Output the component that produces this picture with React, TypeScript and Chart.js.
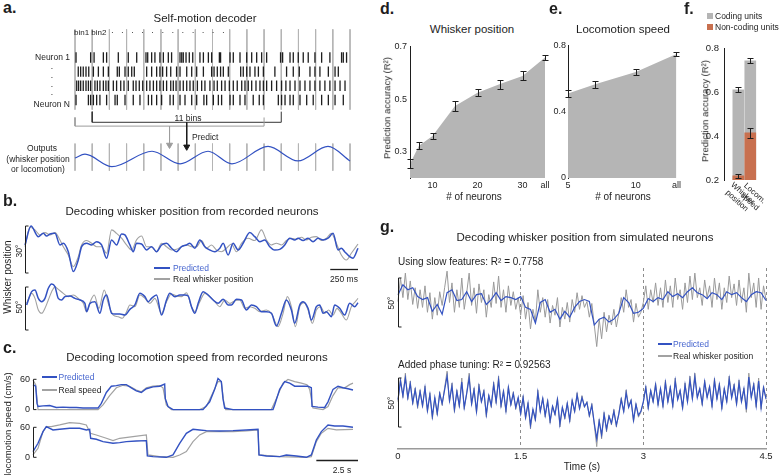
import React, { useEffect, useRef } from 'react';
import { Chart, registerables } from 'chart.js';

Chart.register(...registerables);

const FONT = '"Liberation Sans", Arial, Helvetica, sans-serif';
Chart.defaults.font.family = FONT;
Chart.defaults.color = '#1e1e1e';

const INK = '#1e1e1e';
const BLUE = '#3352c2';
const BLUE_TEXT = '#4766cf';
const GRAY = '#a2a2a2';
const FILL_GRAY = '#b5b5b5';
const ORANGE = '#c8704f';
const GRID_GRAY = '#b4b4b4';

// ---------------- Panel a : raster diagram ----------------
const BIN_EDGES = [0, 1, 2, 3, 4, 5, 6, 7, 8, 9, 10, 11, 12, 13, 14, 15, 16];
const NEURON_ROWS = [1, 2, 3, 4];
const SPIKES_N1 = [0.06, 0.91, 1.11, 1.65, 1.84, 2.52, 3.1, 3.59, 4.13, 4.23, 4.46, 4.65, 4.94, 5.14, 5.43, 5.62, 6.11, 6.21, 6.3, 6.46, 6.65, 6.85, 7.27, 7.47, 7.76, 7.95, 8.4, 8.47, 9.02, 9.21, 9.6, 9.99, 10.28, 10.57, 10.86, 11.15, 11.96, 12.08, 12.51, 12.7, 12.99, 13.28, 13.57, 13.96, 14.35, 14.83, 15.51, 15.61, 15.8];
const SPIKES_N2 = [0.19, 0.33, 0.48, 0.64, 0.8, 1.07, 1.36, 1.65, 1.94, 2.46, 2.58, 2.91, 3.1, 3.3, 3.45, 4.17, 4.46, 4.75, 4.94, 5.1, 5.33, 5.57, 5.91, 6.11, 6.5, 6.79, 7.08, 7.47, 7.95, 8.09, 8.28, 8.47, 8.63, 8.92, 9.64, 9.79, 9.99, 10.18, 10.47, 10.67, 10.96, 11.63, 12.31, 12.7, 13.05, 13.67, 13.96, 14.25, 14.74, 15.13, 15.32];
const SPIKES_N3 = [0.1, 0.21, 0.33, 0.48, 0.64, 0.78, 0.91, 1.16, 1.3, 1.45, 1.65, 1.8, 1.94, 2.23, 2.42, 2.66, 2.85, 3.1, 3.39, 3.55, 3.74, 3.94, 4.17, 4.36, 4.56, 4.75, 4.94, 5.14, 5.33, 5.57, 5.72, 5.88, 6.11, 6.3, 6.5, 6.69, 6.88, 7.12, 7.37, 7.56, 7.85, 8.09, 8.28, 8.53, 8.73, 8.98, 9.21, 9.44, 9.7, 9.89, 10.08, 10.28, 10.53, 10.76, 10.96, 11.15, 11.44, 11.73, 12.02, 12.27, 12.51, 12.8, 13.09, 13.38, 13.67, 13.96, 14.25, 14.54, 14.83, 15.13, 15.42, 15.71];
const SPIKES_NN = [0.06, 0.78, 0.91, 1.07, 1.26, 1.45, 1.84, 2.33, 2.46, 2.91, 3.39, 3.78, 4.27, 4.46, 4.75, 5.04, 5.53, 5.72, 6.11, 6.4, 6.79, 7.08, 7.5, 7.66, 8.05, 8.34, 8.53, 9.02, 9.21, 9.6, 9.89, 10.37, 10.72, 10.96, 11.83, 12.02, 12.22, 12.51, 12.7, 13.09, 13.48, 13.86, 14.35, 14.74, 15.13, 15.61];
const RASTER = [SPIKES_N1, SPIKES_N2, SPIKES_N3, SPIKES_NN];
const WINDOW_PREV = [0, 11];
const WINDOW_NEXT = [1, 12];
const OUTPUT_WAVE = [[0, 8.09], [0.58, 7.82], [2.15, 8.7], [4.48, 7.61], [6.11, 8.5], [7.74, 7.61], [9.13, 8.5], [11.23, 7.27], [12.97, 8.29], [14.72, 7.27], [16, 8.29]];
// layout of the diagram (row units)
const A_RASTER_SPAN = [-0.98, 4.68];
const A_OUTPUT_SPAN = [7.07, 8.98];
const A_NEXT_BRACKET = [4.82, 5.57];
const A_PREV_BRACKET = [5.23, 5.84];
const A_ARROW_HEAD = [7.17, 7.3];

// ---------------- Panel b : whisker position (ms, degrees) ----------------
const B1_PRED = [[0, 17.9], [54, 30.0], [120, 23.2], [165, 25.3], [195, 23.6], [225, 24.9], [270, 25.3], [315, 17.9], [345, 19.0], [390, 13.6], [435, 0.9], [480, 8.3], [510, 16.8], [555, 19.0], [600, 17.9], [645, 20.0], [690, 17.9], [735, 9.4], [780, 21.1], [825, 17.9], [870, 24.9], [900, 24.3], [945, 17.9], [975, 13.6], [1005, 19.0], [1050, 18.5], [1095, 14.7], [1140, 16.8], [1185, 13.6], [1230, 17.9], [1275, 19.0], [1320, 15.8], [1365, 13.6], [1410, 16.8], [1455, 17.9], [1485, 19.0], [1530, 15.8], [1575, 21.1], [1620, 16.8], [1665, 14.7], [1710, 13.6], [1755, 15.8], [1785, 19.0], [1830, 11.5], [1875, 19.0], [1920, 14.7], [1965, 19.0], [2025, 25.8], [2070, 23.2], [2115, 20.0], [2160, 21.1], [2205, 16.8], [2250, 14.7], [2295, 15.1], [2340, 17.9], [2385, 22.2], [2430, 21.1], [2460, 22.2], [2505, 20.7], [2550, 22.2], [2595, 20.0], [2640, 22.2], [2685, 21.1], [2730, 22.2], [2775, 25.3], [2820, 14.7], [2850, 15.8], [2880, 13.6], [2925, 10.4], [2955, 9.4], [3000, 15.8]];
const B1_REAL = [[0, 16.8], [45, 29.2], [90, 27.5], [135, 24.3], [180, 25.8], [225, 24.3], [270, 25.8], [315, 21.1], [345, 16.8], [390, 11.5], [435, 4.0], [480, 10.4], [510, 17.9], [555, 20.7], [600, 19.0], [645, 16.8], [690, 16.8], [735, 12.6], [780, 27.5], [825, 25.3], [870, 22.2], [915, 17.9], [960, 14.7], [1005, 21.1], [1050, 23.6], [1095, 16.8], [1140, 16.8], [1185, 13.6], [1230, 19.0], [1275, 16.8], [1320, 14.7], [1365, 15.1], [1410, 16.8], [1455, 17.9], [1500, 16.8], [1545, 16.8], [1590, 20.7], [1635, 15.8], [1680, 17.9], [1725, 14.7], [1770, 13.6], [1815, 15.8], [1860, 18.5], [1905, 13.6], [1950, 19.0], [2010, 22.2], [2070, 20.7], [2130, 27.5], [2175, 21.1], [2220, 17.9], [2265, 19.0], [2310, 17.9], [2355, 20.7], [2400, 22.2], [2445, 21.5], [2490, 22.8], [2535, 21.1], [2580, 22.8], [2625, 23.2], [2670, 20.7], [2715, 22.2], [2760, 25.3], [2805, 19.0], [2850, 11.5], [2895, 8.3], [2940, 12.6], [3000, 18.5]];
const B2_PRED = [[15, 29.1], [60, 44.6], [90, 46.5], [120, 36.8], [150, 32.9], [180, 36.8], [210, 48.5], [240, 53.5], [270, 50.4], [300, 36.8], [330, 34.9], [360, 38.8], [405, 39.5], [450, 36.8], [495, 34.9], [540, 31.0], [555, 21.3], [585, 31.0], [630, 32.9], [675, 19.4], [705, 34.9], [735, 40.7], [780, 19.4], [810, 18.6], [855, 18.6], [900, 17.4], [945, 24.0], [990, 29.1], [1035, 42.6], [1080, 38.8], [1110, 32.9], [1140, 36.8], [1185, 40.7], [1230, 17.4], [1275, 34.9], [1305, 42.6], [1350, 38.8], [1395, 40.7], [1440, 40.7], [1470, 39.5], [1500, 27.1], [1530, 19.4], [1560, 31.0], [1605, 44.6], [1650, 40.7], [1695, 34.9], [1740, 31.0], [1785, 35.7], [1830, 29.1], [1860, 29.1], [1905, 35.7], [1950, 34.9], [1995, 23.3], [2040, 29.1], [2085, 27.1], [2130, 21.3], [2175, 21.3], [2220, 19.4], [2265, 4.7], [2310, 19.4], [2355, 34.9], [2400, 23.3], [2430, 7.8], [2475, 29.1], [2505, 32.9], [2550, 25.2], [2580, 11.6], [2625, 27.1], [2655, 29.1], [2685, 19.4], [2715, 21.3], [2760, 15.5], [2790, 29.1], [2835, 25.2], [2880, 17.4], [2925, 31.0], [2970, 27.1], [3000, 31.8]];
const B2_REAL = [[15, 31.0], [60, 42.6], [90, 36.8], [120, 23.3], [150, 19.4], [180, 25.2], [210, 34.9], [240, 44.6], [270, 50.4], [300, 47.3], [345, 42.6], [390, 38.8], [435, 40.7], [480, 36.8], [525, 31.0], [555, 21.3], [594, 34.9], [624, 40.7], [666, 25.2], [714, 46.5], [750, 31.0], [795, 17.4], [840, 15.5], [876, 13.6], [915, 21.3], [945, 29.1], [990, 27.1], [1035, 40.7], [1080, 36.8], [1125, 31.0], [1170, 36.8], [1230, 19.4], [1275, 32.9], [1320, 41.9], [1365, 39.5], [1410, 38.8], [1455, 43.4], [1500, 27.1], [1530, 21.3], [1575, 32.9], [1620, 42.6], [1665, 38.8], [1710, 32.9], [1755, 27.1], [1800, 34.9], [1845, 31.0], [1890, 34.1], [1935, 34.9], [1980, 25.2], [2025, 27.1], [2070, 25.2], [2115, 21.3], [2175, 23.3], [2220, 19.4], [2280, 3.9], [2325, 19.4], [2364, 38.8], [2400, 27.1], [2436, 3.9], [2475, 27.1], [2514, 31.8], [2550, 23.3], [2589, 7.8], [2625, 23.3], [2664, 27.1], [2700, 19.4], [2736, 23.3], [2775, 17.4], [2811, 25.2], [2850, 19.4], [2895, 11.6], [2940, 27.1], [2976, 32.9], [3000, 36.8]];
const B_TIME_MAX = 3000;
const B1_BAR_DEG = 30;
const B2_BAR_DEG = 50;
const B_SCALE_MS = 250;

// ---------------- Panel c : locomotion speed (s, cm/s) ----------------
const C1_PRED = [[0, 49.4], [0.16, 46.3], [0.24, 12.3], [0.3, 6.2], [0.6, 7.4], [1.0, 8.0], [1.4, 4.3], [1.8, 4.9], [2.2, 4.3], [2.6, 4.3], [3.0, 3.1], [3.4, 3.1], [3.9, 3.1], [4.1, 12.3], [4.4, 33.9], [4.7, 46.3], [5.0, 47.5], [5.3, 49.4], [5.6, 49.4], [5.9, 43.2], [6.2, 37.0], [6.5, 33.9], [6.8, 41.3], [7.2, 45.0], [7.6, 46.3], [7.9, 50.6], [7.94, 21.6], [8.1, 6.2], [8.4, 0], [10.2, 0], [10.6, 15.4], [10.9, 40.1], [11.1, 61.7], [11.3, 55.5], [11.4, 21.6], [11.5, 3.1], [12.0, 0], [14.4, 0], [14.5, 9.3], [14.8, 40.1], [15.1, 55.5], [15.4, 52.4], [15.7, 46.3], [16.1, 46.3], [16.5, 46.3], [16.7, 43.2], [16.74, 6.2], [17.1, 4.9], [17.5, 4.3], [17.7, 15.4], [18.0, 40.1], [18.3, 46.3], [18.6, 43.2], [18.9, 41.3], [19.2, 38.9]];
const C1_REAL = [[0, 58.6], [0.16, 49.4], [0.24, 21.6], [0.3, 0], [3.9, 0], [4.2, 9.3], [4.6, 27.8], [5.0, 43.2], [5.4, 48.1], [5.8, 46.3], [6.2, 38.9], [6.5, 35.2], [6.8, 43.2], [7.2, 46.3], [7.6, 47.5], [7.8, 43.2], [8.0, 9.3], [8.3, 0], [10.0, 0], [10.4, 6.2], [10.8, 33.9], [11.1, 55.5], [11.3, 55.5], [11.44, 15.4], [11.56, 0], [14.3, 0], [14.6, 21.6], [15.0, 52.4], [15.3, 59.8], [15.7, 55.5], [16.1, 52.4], [16.44, 49.4], [16.6, 40.1], [16.8, 3.1], [17.4, 0], [17.7, 6.2], [18.0, 27.8], [18.3, 43.2], [18.7, 43.2], [19.0, 49.4], [19.2, 52.4]];
const C2_PRED = [[0, 11.3], [0.3, 28.0], [0.6, 51.4], [0.8, 61.4], [1.2, 54.7], [1.6, 56.0], [2.2, 58.0], [2.8, 58.0], [3.2, 54.7], [3.4, 56.0], [3.46, 38.0], [3.8, 36.0], [4.2, 31.3], [4.8, 28.0], [5.2, 29.3], [5.6, 31.3], [6.2, 32.7], [6.8, 33.4], [6.86, 2.7], [7.2, 1.3], [8.0, 0], [8.4, 4.7], [8.8, 28.0], [9.2, 48.0], [9.6, 56.0], [10.0, 54.7], [10.4, 53.4], [11.2, 52.7], [12.0, 53.4], [12.8, 54.7], [13.5, 56.0], [13.56, 4.7], [14.0, 2.7], [14.8, 1.3], [15.2, 4.7], [15.8, 2.7], [16.4, 0], [16.7, 4.7], [17.0, 34.7], [17.3, 51.4], [17.7, 64.7], [18.1, 62.7], [18.6, 62.7], [19.2, 60.0]];
const C2_REAL = [[0, 4.7], [0.3, 18.0], [0.6, 51.4], [0.8, 61.4], [1.1, 61.4], [1.6, 64.7], [2.2, 69.4], [2.8, 68.0], [3.2, 64.7], [3.44, 48.0], [3.8, 44.7], [4.4, 38.0], [4.8, 33.4], [5.2, 38.0], [6.0, 41.4], [6.8, 44.7], [6.9, 4.7], [7.6, 1.3], [8.4, 0], [8.8, 4.7], [9.2, 11.3], [9.6, 31.3], [10.0, 44.7], [10.4, 51.4], [11.2, 51.4], [12.0, 51.4], [12.8, 52.7], [13.5, 54.7], [13.56, 4.7], [14.8, 1.3], [16.4, 0], [16.7, 1.3], [17.0, 31.3], [17.3, 48.0], [17.7, 58.0], [18.2, 54.7], [19.2, 56.0]];
const C_TIME_MAX = 19.5;
const C_SPEED_TICKS = [0, 60];
const C_SCALE_S = 2.5;

// ---------------- Panel d / e / f ----------------
const D_NEURONS = [5, 7, 10, 15, 20, 25, 30, 35];
const D_R2 = [0.254, 0.323, 0.36, 0.474, 0.524, 0.557, 0.588, 0.658];
const D_ERR = [0.017, 0.0125, 0.0125, 0.019, 0.0125, 0.017, 0.0175, 0.011];
const D_X_TICKS = [10, 20, 30, 35];
const D_Y_TICKS = [0.3, 0.5, 0.7];
const D_ALL = 35;

const E_NEURONS = [5, 7, 10, 13];
const E_R2 = [0.51, 0.566, 0.64, 0.748];
const E_ERR = [0.02, 0.02, 0.02, 0.012];
const E_X_TICKS = [5, 10, 13];
const E_Y_TICKS = [0, 0.4, 0.8];
const E_ALL = 13;

const F_GROUPS = ['Whisker position', 'Locom. speed'];
const F_CODING = [0.612, 0.745];
const F_CODING_ERR = [0.012, 0.012];
const F_NONCODING = [0.219, 0.415];
const F_NONCODING_ERR = [0.008, 0.022];
const F_Y_TICKS = [0.2, 0.4, 0.6, 0.8];

// ---------------- Panel g : simulated neurons ----------------
const G_DT_FAST = 0.03;
const G_DT_SLOW = 0.06;
const G_REAL = [
  26, 50, 30, 55, 28, 47, 23, 40, 19, 38,
  20, 42, 15, 35, 8, 30, 12, 36, 22, 40,
  57, 25, 45, 15, 38, 20, 50, 18, 35, 55,
  22, 40, 14, 44, 25, 38, 10, 33, 20, 46,
  24, 52, 20, 38, 15, 42, 22, 36, 18, 30,
  12, 32, 8, 25, -2, 18, 6, 38, 15, 30,
  10, 28, 4, 22, 12, 30, 0, 20, 8, 25,
  5, 28, 15, 35, 18, 32, 20, 26, 10, 24,
  2, -20, 8, -12, 15, -5, 12, 2, 18, 0,
  14, 30, 15, 38, 20, 28, 5, 24, 10, 15,
  25, 42, 18, 38, 25, 45, 22, 40, 20, 48,
  25, 42, 20, 50, 28, 38, 18, 45, 25, 52,
  28, 55, 30, 40, 22, 48, 30, 42, 20, 50,
  28, 45, 18, 40, 25, 52, 30, 44, 22, 48,
  25, 40, 15, 55, 30, 45, 20, 50, 18, 42,
  28,
];
const G1_PRED = [
  33, 43, 38, 40, 31, 28, 30, 16, 23, 13,
  35, 38, 27, 28, 36, 26, 33, 34, 23, 28,
  35, 27, 31, 30, 28, 31, 20, 18, 4, 25,
  28, 15, 18, 8, 16, 10, 20, 26, 28, 26,
  2, 8, 10, 5, 8, 14, 30, 25, 14, 15,
  19, 29, 26, 30, 28, 36, 31, 34, 30, 36,
  40, 35, 33, 29, 35, 33, 28, 36, 33, 35,
  30, 26, 33, 36, 35, 27,
];
const G2_PRED = [
  28, 47, 32, 50, 30, 44, 25, 38, 22, 36,
  22, 40, 17, 33, 11, 30, 14, 34, 24, 38,
  52, 27, 42, 18, 36, 22, 46, 20, 34, 50,
  24, 38, 16, 41, 26, 36, 13, 32, 22, 43,
  26, 48, 22, 36, 17, 40, 23, 34, 20, 30,
  14, 30, 10, 24, 2, 18, 8, 35, 16, 29,
  12, 26, 6, 21, 13, 28, 3, 20, 10, 24,
  7, 27, 16, 33, 19, 30, 21, 25, 12, 22,
  4, -12, 6, -8, 13, -2, 11, 4, 16, 2,
  13, 28, 16, 35, 20, 27, 7, 23, 12, 16,
  26, 40, 20, 37, 26, 43, 23, 39, 22, 45,
  26, 40, 22, 47, 28, 37, 20, 43, 26, 48,
  29, 51, 30, 39, 24, 46, 30, 41, 22, 47,
  29, 43, 20, 39, 26, 49, 30, 42, 24, 45,
  26, 39, 18, 51, 30, 43, 22, 47, 20, 40,
  29,
];
const G_X_TICKS = [0, 1.5, 3, 4.5];
const G_BAR_DEG = 50;

// ---------------- plugins ----------------
const scaleBarPlugin = {
  id: 'scalebars',
  afterDatasetsDraw(chart: any, _a: any, opts: any) {
    const ctx = chart.ctx;
    ctx.save();
    ctx.strokeStyle = INK;
    for (const b of opts.vertical || []) {
      const ys = chart.scales[b.axis || 'y'];
      const x = Math.round(chart.scales.x.getPixelForValue(b.at)) + 0.5;
      const y1 = ys.getPixelForValue(b.lo);
      const y2 = ys.getPixelForValue(b.hi);
      ctx.lineWidth = 1;
      ctx.beginPath();
      ctx.moveTo(x + 3, y1); ctx.lineTo(x, y1); ctx.lineTo(x, y2); ctx.lineTo(x + 3, y2);
      ctx.stroke();
    }
    for (const b of opts.horizontal || []) {
      const ys = chart.scales[b.axis || 'y'];
      const y = Math.round(ys.getPixelForValue(b.at)) + 0.5;
      ctx.lineWidth = 1.3;
      ctx.beginPath();
      ctx.moveTo(chart.scales.x.getPixelForValue(b.lo), y);
      ctx.lineTo(chart.scales.x.getPixelForValue(b.hi), y);
      ctx.stroke();
    }
    ctx.restore();
  },
};

const errorBarPlugin = {
  id: 'errorbars',
  afterDatasetsDraw(chart: any) {
    const ctx = chart.ctx;
    chart.data.datasets.forEach((ds: any, i: number) => {
      if (!ds.errors) return;
      const meta = chart.getDatasetMeta(i);
      const ys = chart.scales[meta.yAxisID];
      ctx.save();
      ctx.strokeStyle = INK;
      ctx.lineWidth = 1;
      meta.data.forEach((el: any, j: number) => {
        const e = ds.errors[j];
        if (e == null) return;
        const v = ds.data[j].y;
        const x = Math.round(el.x) + 0.5;
        const y1 = Math.round(ys.getPixelForValue(v - e)) + 0.5;
        const y2 = Math.round(ys.getPixelForValue(v + e)) + 0.5;
        ctx.beginPath();
        ctx.moveTo(x, y1); ctx.lineTo(x, y2);
        ctx.moveTo(x - 3, y1); ctx.lineTo(x + 3, y1);
        ctx.moveTo(x - 3, y2); ctx.lineTo(x + 3, y2);
        ctx.stroke();
      });
      ctx.restore();
    });
  },
};

const rotatedLabelPlugin = {
  id: 'rotlabels',
  afterDraw(chart: any, _a: any, opts: any) {
    const { ctx, chartArea } = chart;
    const xs = chart.scales.x;
    ctx.save();
    ctx.font = `${opts.size}px ${FONT}`;
    ctx.fillStyle = INK;
    ctx.textAlign = 'left';
    ctx.textBaseline = 'middle';
    (opts.labels || []).forEach((lab: string, i: number) => {
      const lines = lab.split(' ');
      ctx.save();
      ctx.translate(xs.getPixelForValue(i) + opts.dx, chartArea.bottom + opts.dy);
      ctx.rotate((opts.angle * Math.PI) / 180);
      const w0 = ctx.measureText(lines[0]).width;
      lines.forEach((ln: string, k: number) => {
        const w = ctx.measureText(ln).width;
        ctx.fillText(ln, -w0 / 2 - ((w - w0) / 2) * opts.shift, k * opts.lineHeight);
      });
      ctx.restore();
    });
    ctx.restore();
  },
};

// ---------------- helpers ----------------
const pairs = (arr: number[][]) => arr.map((p) => ({ x: p[0], y: p[1] }));
const even = (arr: number[], dt: number) => arr.map((v, i) => ({ x: Math.round(i * dt * 1000) / 1000, y: v }));
const fixedTicks = (vals: number[]) => (s: any) => { s.ticks = vals.map((v) => ({ value: v })); };

function baseOptions(padding: any) {
  return {
    responsive: false,
    animation: false,
    events: [],
    layout: { padding },
  };
}

function lineDs(data: any[], color: string, width: number, extra: any = {}) {
  return {
    data,
    borderColor: color,
    borderWidth: width,
    pointRadius: 0,
    fill: false,
    clip: false,
    tension: 0,
    ...extra,
  };
}

// ---------------- chart configs ----------------
function panelAConfig() {
  const segs = (span: number[]) => BIN_EDGES.flatMap((b) => [{ x: b, y: span[0] }, { x: b, y: span[1] }, { x: b, y: null }]);
  const datasets: any[] = [];
  datasets.push(lineDs(segs(A_RASTER_SPAN), GRID_GRAY, 1, { spanGaps: false, order: 5 }));
  datasets.push(lineDs(segs(A_OUTPUT_SPAN), GRID_GRAY, 1, { spanGaps: false, order: 5 }));
  RASTER.forEach((times, r) => {
    datasets.push({
      data: times.map((t) => ({ x: t, y: NEURON_ROWS[r] })),
      showLine: false,
      pointStyle: 'line',
      pointRotation: 90,
      pointRadius: 5.2,
      pointBorderWidth: 1.3,
      pointBorderColor: INK,
      pointBackgroundColor: INK,
      order: 2,
    });
  });
  const bracket = (win: number[], span: number[], color: string) =>
    lineDs([{ x: win[0], y: span[0] }, { x: win[0], y: span[1] }, { x: win[1], y: span[1] }, { x: win[1], y: span[0] }], color, 1, { order: 3 });
  datasets.push(bracket(WINDOW_PREV, A_PREV_BRACKET, '#9c9c9c'));
  datasets.push(bracket(WINDOW_NEXT, A_NEXT_BRACKET, '#333333'));
  const arrow = (win: number[], y0: number, y1: number, color: string) => {
    const mid = (win[0] + win[1]) / 2;
    return lineDs([{ x: mid, y: y0 }, { x: mid, y: y1 }], color, 1, {
      pointRadius: [0, 3.5],
      pointStyle: 'triangle',
      pointRotation: 180,
      pointBackgroundColor: color,
      pointBorderColor: color,
      pointBorderWidth: 1,
      order: 1,
    });
  };
  datasets.push(arrow(WINDOW_PREV, A_PREV_BRACKET[1], A_ARROW_HEAD[0], '#9c9c9c'));
  datasets.push(arrow(WINDOW_NEXT, A_NEXT_BRACKET[1], A_ARROW_HEAD[1], '#1a1a1a'));
  datasets.push(lineDs(pairs(OUTPUT_WAVE), BLUE, 1.2, { cubicInterpolationMode: 'monotone', order: 0 }));
  return {
    type: 'line',
    data: { datasets },
    options: {
      ...baseOptions({ left: 15, right: 10, top: 4, bottom: 4 }),
      scales: {
        x: { type: 'linear', display: false, min: BIN_EDGES[0], max: BIN_EDGES[BIN_EDGES.length - 1] },
        y: { type: 'linear', display: false, reverse: true, min: -1.18, max: 9.32 },
      },
      plugins: { legend: { display: false }, tooltip: { enabled: false } },
    },
  };
}

function traceConfig(o: any) {
  const hasTicks = !!o.yTicks;
  return {
    type: 'line',
    data: { datasets: o.datasets },
    options: {
      ...baseOptions(o.padding),
      scales: {
        x: { type: 'linear', display: false, min: 0, max: o.xMax },
        y: {
          type: 'linear',
          display: hasTicks,
          min: o.yMin,
          max: o.yMax,
          afterFit: (s: any) => { s.width = o.yAxisWidth || 0; },
          afterBuildTicks: hasTicks ? fixedTicks(o.yTicks) : undefined,
          grid: { display: false, drawTicks: false },
          border: { display: false },
          ticks: { font: { size: 9 }, color: INK, padding: 3 },
        },
      },
      plugins: { legend: { display: false }, tooltip: { enabled: false }, scalebars: o.bars },
    },
    plugins: [scaleBarPlugin],
  };
}

function areaConfig(o: any) {
  return {
    type: 'line',
    data: {
      datasets: [{
        data: o.xs.map((n: number, i: number) => ({ x: n, y: o.ys[i] })),
        fill: 'start',
        backgroundColor: FILL_GRAY,
        borderWidth: 0,
        borderColor: FILL_GRAY,
        pointRadius: 0,
        tension: 0,
        errors: o.errs,
      }],
    },
    options: {
      ...baseOptions({ top: 7, right: o.padRight }),
      scales: {
        x: {
          type: 'linear', min: o.xs[0], max: o.xs[o.xs.length - 1],
          afterBuildTicks: fixedTicks(o.xTicks),
          afterFit: (s: any) => { s.height = 25; },
          ticks: { font: { size: 9 }, color: INK, padding: 2, maxRotation: 0, callback: (v: number) => (v === o.allAt ? 'all' : String(v)) },
          grid: { display: false, drawTicks: false },
          border: { display: false },
        },
        y: {
          type: 'linear', min: o.yMin, max: o.yMax,
          afterBuildTicks: fixedTicks(o.yTicks),
          afterFit: (s: any) => { s.width = o.yAxisWidth; },
          ticks: { font: { size: 9 }, color: INK, padding: o.tickPad, callback: (v: number) => (v === 0 ? '0' : v.toFixed(1)) },
          grid: { display: false, drawTicks: false },
          border: { display: true, color: INK, width: 1 },
        },
      },
      plugins: { legend: { display: false }, tooltip: { enabled: false } },
    },
    plugins: [errorBarPlugin],
  };
}

function panelFConfig() {
  const bars = (vals: number[], errs: number[], color: string, order: number) => ({
    data: vals.map((v, i) => ({ x: i, y: v })),
    backgroundColor: color,
    barThickness: 11,
    grouped: false,
    order,
    errors: errs,
  });
  return {
    type: 'bar',
    data: { datasets: [bars(F_NONCODING, F_NONCODING_ERR, ORANGE, 0), bars(F_CODING, F_CODING_ERR, FILL_GRAY, 1)] },
    options: {
      ...baseOptions({ top: 6.3, right: 14, bottom: 40 }),
      scales: {
        x: { type: 'linear', display: false, min: -0.3, max: 1.5 },
        y: {
          type: 'linear', min: 0.2, max: 0.8,
          afterBuildTicks: fixedTicks(F_Y_TICKS),
          afterFit: (s: any) => { s.width = 24; },
          ticks: { font: { size: 9.5 }, color: INK, padding: 5, callback: (v: number) => v.toFixed(1) },
          grid: { display: false, drawTicks: false },
          border: { display: true, color: INK, width: 1 },
        },
      },
      plugins: {
        legend: { display: false }, tooltip: { enabled: false },
        rotlabels: { labels: F_GROUPS, size: 8, dx: 4.5, dy: 13.5, angle: 42, lineHeight: 9.5, shift: 1.8 },
      },
    },
    plugins: [errorBarPlugin, rotatedLabelPlugin],
  };
}

function panelGConfig() {
  return {
    type: 'line',
    data: {
      datasets: [
        lineDs(even(G1_PRED, G_DT_SLOW), BLUE, 1.2, { yAxisID: 'yTop', order: 0 }),
        lineDs(even(G_REAL, G_DT_FAST), '#9a9a9a', 1, { yAxisID: 'yTop', order: 1 }),
        lineDs(even(G2_PRED, G_DT_FAST), BLUE, 1.2, { yAxisID: 'yBot', order: 0 }),
        lineDs(even(G_REAL, G_DT_FAST), '#9a9a9a', 1, { yAxisID: 'yBot', order: 1 }),
      ],
    },
    options: {
      ...baseOptions({ left: 18, right: 15, top: 6 }),
      scales: {
        x: {
          type: 'linear', min: G_X_TICKS[0], max: G_X_TICKS[G_X_TICKS.length - 1],
          afterBuildTicks: fixedTicks(G_X_TICKS),
          afterFit: (s: any) => { s.height = 19; },
          ticks: { font: { size: 9.5 }, color: INK, padding: 2, maxRotation: 0, callback: (v: number) => String(v) },
          grid: {
            display: true, drawOnChartArea: true, drawTicks: false, lineWidth: 1,
            color: (c: any) => (c.tick && c.tick.value > 0 ? '#8c8c8c' : 'rgba(0,0,0,0)'),
          },
          border: { display: true, color: '#9a9a9a', width: 1.6, dash: [3, 3] },
        },
        yTop: { type: 'linear', position: 'left', display: false, min: -124.5, max: 60.2 },
        yBot: { type: 'linear', position: 'left', display: false, min: -22.4, max: 162.2 },
      },
      plugins: {
        legend: { display: false }, tooltip: { enabled: false },
        scalebars: { vertical: [{ axis: 'yTop', at: 0, lo: 0, hi: G_BAR_DEG }, { axis: 'yBot', at: 0, lo: 0, hi: G_BAR_DEG }] },
      },
    },
    plugins: [scaleBarPlugin],
  };
}

// ---------------- React pieces ----------------
function ChartCanvas({ x, y, w, h, build }: { x: number; y: number; w: number; h: number; build: () => any }) {
  const ref = useRef<HTMLCanvasElement | null>(null);
  useEffect(() => {
    if (!ref.current) return;
    const chart = new Chart(ref.current, build());
    return () => chart.destroy();
  }, []);
  return <canvas ref={ref} width={w} height={h} style={{ position: 'absolute', left: x, top: y, width: w, height: h }} />;
}

function Txt({ x, y, children, size = 8.5, align = 'left', color = INK, bold = false, rot = 0, ls }: any) {
  const tx = align === 'left' ? '0%' : align === 'center' ? '-50%' : '-100%';
  return (
    <div style={{
      position: 'absolute', left: x, top: y, transform: `translate(${tx}, -50%) rotate(${rot}deg)`,
      fontFamily: FONT, fontSize: size, lineHeight: 1, color, fontWeight: bold ? 700 : 400,
      whiteSpace: 'nowrap', letterSpacing: ls,
    }}>{children}</div>
  );
}

function Swatch({ x, y, w, h, color }: any) {
  return <div style={{ position: 'absolute', left: x, top: y, width: w, height: h, background: color }} />;
}

export default function App() {
  useEffect(() => { document.body.style.margin = '0'; }, []);
  return (
    <div style={{ position: 'absolute', left: 0, top: 0, width: 781, height: 475, overflow: 'hidden', background: '#fff', fontFamily: FONT }}>
      {/* ---- a ---- */}
      <ChartCanvas x={60} y={20} w={300} h={162} build={panelAConfig} />
      <Txt x={3} y={8} size={16} bold>a.</Txt>
      <Txt x={205} y={18.5} size={11.5} align="center">Self-motion decoder</Txt>
      <Txt x={74} y={33} size={8}>bin1 bin2</Txt>
      <Txt x={111} y={33} size={8} ls="2.6px">· · · · · · · · · · · ·</Txt>
      <Txt x={70} y={56.5} align="right">Neuron 1</Txt>
      <Txt x={52} y={66} align="center">.</Txt>
      <Txt x={52} y={75} align="center">.</Txt>
      <Txt x={52} y={84} align="center">.</Txt>
      <Txt x={52} y={92} align="center">.</Txt>
      <Txt x={70} y={104} align="right">Neuron N</Txt>
      <Txt x={188} y={117.5} align="center">11 bins</Txt>
      <Txt x={192} y={137} >Predict</Txt>
      <Txt x={42} y={148} align="center">Outputs</Txt>
      <Txt x={38} y={158.5} align="center">(whisker position</Txt>
      <Txt x={38} y={169} align="center">or locomotion)</Txt>

      {/* ---- b ---- */}
      <ChartCanvas x={15} y={215} w={350} h={70} build={() => traceConfig({
        datasets: [lineDs(pairs(B1_PRED), BLUE, 1.5, { cubicInterpolationMode: 'monotone', order: 0 }), lineDs(pairs(B1_REAL), GRAY, 1.1, { cubicInterpolationMode: 'monotone', order: 1 })],
        padding: { left: 10, right: 7, top: 11, bottom: 12 }, xMax: B_TIME_MAX, yMin: 0, yMax: B1_BAR_DEG,
        bars: { vertical: [{ at: 0, lo: 0, hi: B1_BAR_DEG }], horizontal: [{ lo: B_TIME_MAX - B_SCALE_MS, hi: B_TIME_MAX, at: 2.4 }] },
      })} />
      <ChartCanvas x={15} y={278} w={350} h={62} build={() => traceConfig({
        datasets: [lineDs(pairs(B2_PRED), BLUE, 1.5, { cubicInterpolationMode: 'monotone', order: 0 }), lineDs(pairs(B2_REAL), GRAY, 1.1, { cubicInterpolationMode: 'monotone', order: 1 })],
        padding: { left: 10, right: 7, top: 9, bottom: 10 }, xMax: B_TIME_MAX, yMin: 0, yMax: B2_BAR_DEG,
        bars: { vertical: [{ at: 0, lo: 0, hi: B2_BAR_DEG }] },
      })} />
      <Txt x={3} y={201} size={16} bold>b.</Txt>
      <Txt x={192} y={212} size={11.5} align="center">Decoding whisker position from recorded neurons</Txt>
      <Txt x={19} y={250.5} rot={-90} align="center">30°</Txt>
      <Txt x={19} y={306.5} rot={-90} align="center">50°</Txt>
      <Txt x={8} y={277} size={10} rot={-90} align="center">Whisker position</Txt>
      <Swatch x={154} y={267} w={16} h={2} color={BLUE} />
      <Txt x={173} y={268} color={BLUE_TEXT}>Predicted</Txt>
      <Swatch x={154} y={278} w={16} h={1.5} color={GRAY} />
      <Txt x={173} y={278.5}>Real whisker position</Txt>
      <Txt x={344} y={279} align="center">250 ms</Txt>

      {/* ---- c ---- */}
      <ChartCanvas x={5} y={368} w={360} h={50} build={() => traceConfig({
        datasets: [lineDs(pairs(C1_PRED), BLUE, 1.4, { order: 0 }), lineDs(pairs(C1_REAL), GRAY, 1.2, { order: 1 })],
        padding: { left: 0, right: 7, top: 11.3, bottom: 6.3 }, xMax: C_TIME_MAX, yMin: C_SPEED_TICKS[0], yMax: C_SPEED_TICKS[1],
        yTicks: C_SPEED_TICKS, yAxisWidth: 28,
        bars: { vertical: [{ at: 0, lo: C_SPEED_TICKS[0], hi: C_SPEED_TICKS[1] }] },
      })} />
      <ChartCanvas x={5} y={418} w={360} h={50} build={() => traceConfig({
        datasets: [lineDs(pairs(C2_PRED), BLUE, 1.4, { order: 0 }), lineDs(pairs(C2_REAL), GRAY, 1.2, { order: 1 })],
        padding: { left: 0, right: 7, top: 9.3, bottom: 10.7 }, xMax: C_TIME_MAX, yMin: C_SPEED_TICKS[0], yMax: C_SPEED_TICKS[1],
        yTicks: C_SPEED_TICKS, yAxisWidth: 28,
        bars: { vertical: [{ at: 0, lo: C_SPEED_TICKS[0], hi: C_SPEED_TICKS[1] }], horizontal: [{ lo: C_TIME_MAX - C_SCALE_S, hi: C_TIME_MAX, at: -5.4 }] },
      })} />
      <Txt x={3} y={348} size={16} bold>c.</Txt>
      <Txt x={197} y={357.5} size={11.5} align="center">Decoding locomotion speed from recorded neurons</Txt>
      <Swatch x={42} y={376.3} w={15} h={2} color={BLUE} />
      <Txt x={58.5} y={377.3} color={BLUE_TEXT}>Predicted</Txt>
      <Swatch x={42} y={389.3} w={15} h={1.5} color={GRAY} />
      <Txt x={58.5} y={390}>Real speed</Txt>
      <Txt x={342} y={469.5} align="center">2.5 s</Txt>
      <Txt x={8} y={424} size={9.5} rot={-90} align="center">locomotion speed (cm/s)</Txt>

      {/* ---- d ---- */}
      <ChartCanvas x={380} y={38} w={175} h={165} build={() => areaConfig({
        xs: D_NEURONS, ys: D_R2, errs: D_ERR, xTicks: D_X_TICKS, yTicks: D_Y_TICKS, allAt: D_ALL,
        yMin: 0.2, yMax: 0.7, yAxisWidth: 30, padRight: 10, tickPad: 3,
      })} />
      <Txt x={380} y={9} size={16} bold>d.</Txt>
      <Txt x={472} y={30} size={11.5} align="center">Whisker position</Txt>
      <Txt x={387} y={108} size={9.5} rot={-90} align="center">Prediction accuracy (R²)</Txt>
      <Txt x={474} y={197} size={10} align="center"># of neurons</Txt>

      {/* ---- e ---- */}
      <ChartCanvas x={548} y={38} w={135} h={165} build={() => areaConfig({
        xs: E_NEURONS, ys: E_R2, errs: E_ERR, xTicks: E_X_TICKS, yTicks: E_Y_TICKS, allAt: E_ALL,
        yMin: 0, yMax: 0.8, yAxisWidth: 20, padRight: 6, tickPad: 2,
      })} />
      <Txt x={549} y={9} size={16} bold>e.</Txt>
      <Txt x={623} y={30} size={11.5} align="center">Locomotion speed</Txt>
      <Txt x={623} y={197} size={10} align="center"># of neurons</Txt>

      {/* ---- f ---- */}
      <ChartCanvas x={700} y={38} w={81} h={182} build={panelFConfig} />
      <Txt x={684} y={9} size={16} bold>f.</Txt>
      <Swatch x={707} y={13} w={6} h={6} color={FILL_GRAY} />
      <Txt x={715} y={16}>Coding units</Txt>
      <Swatch x={707} y={24} w={6} h={6} color={ORANGE} />
      <Txt x={715} y={27}>Non-coding units</Txt>
      <Txt x={705} y={111} size={9.5} rot={-90} align="center">Prediction accuracy (R²)</Txt>

      {/* ---- g ---- */}
      <ChartCanvas x={380} y={262} w={401} h={206} build={panelGConfig} />
      <Txt x={380} y={227} size={16} bold>g.</Txt>
      <Txt x={585} y={238} size={11.5} align="center">Decoding whisker position from simulated neurons</Txt>
      <Txt x={398} y={262} size={10}>Using slow features: R² = 0.7758</Txt>
      <Txt x={398} y={365} size={10}>Added phase tuning: R² = 0.92563</Txt>
      <Txt x={391} y={303} rot={-90} align="center">50°</Txt>
      <Txt x={391} y={403} rot={-90} align="center">50°</Txt>
      <Swatch x={658} y={343} w={14} h={2} color={BLUE} />
      <Txt x={673} y={344} color={BLUE_TEXT}>Predicted</Txt>
      <Swatch x={658} y={355.3} w={14} h={1.5} color={GRAY} />
      <Txt x={673} y={356}>Real whisker position</Txt>
      <Txt x={582} y={467} size={10} align="center">Time (s)</Txt>
    </div>
  );
}
